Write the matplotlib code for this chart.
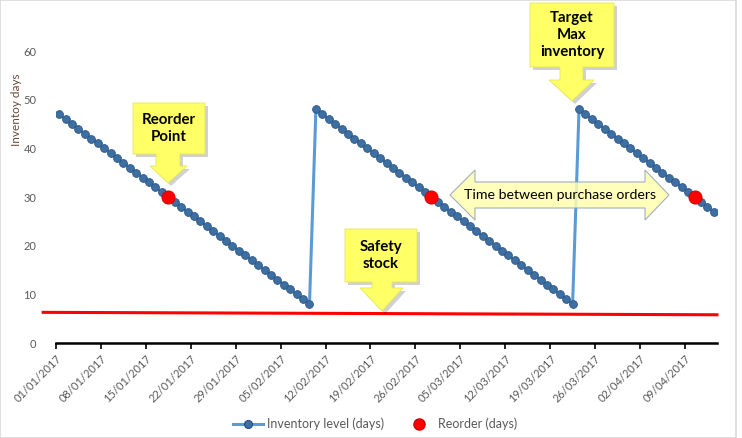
import matplotlib
matplotlib.use("Agg")
import matplotlib.pyplot as plt
import matplotlib.dates as mdates
from matplotlib.patches import Polygon, Rectangle
from matplotlib.lines import Line2D
import pandas as pd

plt.rcParams["font.family"] = ["Lato", "DejaVu Sans"]

# data
start_date = "2017-01-01"
inventory_days = [47, 46, 45, 44, 43, 42, 41, 40, 39, 38, 37, 36, 35, 34, 33, 32,
                  31, 30, 29, 28, 27, 26, 25, 24, 23, 22, 21, 20, 19, 18, 17, 16,
                  15, 14, 13, 12, 11, 10, 9, 8,
                  48, 47, 46, 45, 44, 43, 42, 41, 40, 39, 38, 37, 36, 35, 34, 33,
                  32, 31, 30, 29, 28, 27, 26, 25, 24, 23, 22, 21, 20, 19, 18, 17,
                  16, 15, 14, 13, 12, 11, 10, 9, 8,
                  48, 47, 46, 45, 44, 43, 42, 41, 40, 39, 38, 37, 36, 35, 34, 33,
                  32, 31, 30, 29, 28, 27]
reorder_dates = ["2017-01-18", "2017-02-28", "2017-04-10"]
reorder_values = [30, 30, 30]
safety_dates = ["2016-12-30", "2017-04-14"]
safety_values = [6.3, 5.8]
tick_dates = pd.date_range("2017-01-01", "2017-04-09", freq="7D")

W, H = 742, 438
fig = plt.figure(figsize=(W / 100, H / 100), dpi=100)
ax = fig.add_axes([56 / W, 1 - 343 / H, (717 - 56) / W, (343 - 51) / H])

half = pd.Timedelta(hours=12)
days = pd.date_range(start_date, periods=len(inventory_days)) + half
ax.plot(days, inventory_days, color="#5B9BD5", lw=2.2, marker="o", ms=5.6,
        mfc="#3E6FA3", mec="#2B5583", mew=0.6, zorder=3)
ax.plot(pd.to_datetime(reorder_dates) + half, reorder_values, ls="none", marker="o",
        ms=9.5, mfc="#FF0000", mec="#D00000", mew=0.6, zorder=4)
ax.plot(pd.to_datetime(safety_dates), safety_values, color="#FF0000", lw=2.2,
        zorder=2, clip_on=False)

ax.set_xlim(pd.Timestamp("2017-01-01"), pd.Timestamp("2017-04-14"))
ax.set_ylim(0, 60)
ax.set_yticks(range(0, 61, 10))
ax.set_xticks(tick_dates)
ax.xaxis.set_major_formatter(mdates.DateFormatter("%d/%m/%Y"))
for lbl in ax.get_xticklabels():
    lbl.set_rotation(45)
    lbl.set_ha("right")
    lbl.set_rotation_mode("anchor")
ax.tick_params(axis="x", colors="#595959", labelsize=8, length=4, width=1.2,
               direction="out", pad=3)
ax.tick_params(axis="x", which="major", color="black")
ax.tick_params(axis="y", colors="#595959", labelsize=8, length=0, pad=14)
for s in ["top", "right", "left"]:
    ax.spines[s].set_visible(False)
ax.spines["bottom"].set_color("black")
ax.spines["bottom"].set_linewidth(1.8)
ax.patch.set_alpha(0)

fig.text(17 / W, 1 - 110 / H, "Inventoy days", rotation=90, ha="center", va="center",
         fontsize=8.5, color="#6b4a3a")


def px(x, y):
    return (x / W, 1 - y / H)


def down_callout(l, t, r, b, sl, sr, hb, hl, hr, tip, text):
    tx, ty = tip
    pts = [(l, t), (r, t), (r, b), (sr, b), (sr, hb), (hr, hb), (tx, ty),
           (hl, hb), (sl, hb), (sl, b), (l, b)]
    shadow = [px(x + 3, y + 3) for x, y in pts]
    fig.patches.append(Polygon(shadow, closed=True, transform=fig.transFigure,
                               fc="#000000", alpha=0.18, ec="none", zorder=5))
    fig.patches.append(Polygon([px(x, y) for x, y in pts], closed=True,
                               transform=fig.transFigure, fc="#FFFF66",
                               ec="#E6E65A", lw=0.6, zorder=6))
    cx, cy = px((l + r) / 2, (t + b) / 2)
    fig.text(cx, cy, text, ha="center", va="center", fontsize=10.8,
             fontweight="bold", color="black", zorder=7, linespacing=1.3)


down_callout(133, 103, 205, 154, 156, 180, 166, 150, 187, (168, 183),
             "Reorder\nPoint")
down_callout(345, 229, 417, 282, 372, 392, 288, 360, 403, (382, 311),
             "Safety\nstock")
down_callout(530, 3, 614, 67, 560, 583, 80, 549, 594, (572, 101),
             "Target\nMax\ninventory")

# double arrow
arrow_pts = [(450, 195), (475, 170), (475, 182), (645, 182), (645, 170), (669, 195),
             (645, 220), (645, 208), (475, 208), (475, 220)]
fig.patches.append(Polygon([px(x, y) for x, y in arrow_pts], closed=True,
                           transform=fig.transFigure, fc="#FFFFB0", alpha=0.85,
                           ec="#8EA3B8", lw=0.8, zorder=5))
fig.text(*px(560, 195), "Time between purchase orders", ha="center", va="center",
         fontsize=10.2, color="black", zorder=7)

# legend
handles = [Line2D([], [], color="#5B9BD5", lw=2.2, marker="o", ms=5.6,
                  mfc="#3E6FA3", mec="#2B5583"),
           Line2D([], [], ls="none", marker="o", ms=8, mfc="#FF0000", mec="#D00000")]
fig.legend(handles, ["Inventory level (days)", "Reorder (days)"], loc="center",
           bbox_to_anchor=px(375, 424), ncol=2, frameon=False, fontsize=9,
           handlelength=2.4, handletextpad=0.3, columnspacing=1.6,
           labelcolor="#595959")

fig.patches.append(Rectangle((0, 0), 736 / W, 1, transform=fig.transFigure,
                             fill=False, ec="#D9D9D9", lw=1.2, zorder=0))

fig.savefig("out.png", dpi=100)
